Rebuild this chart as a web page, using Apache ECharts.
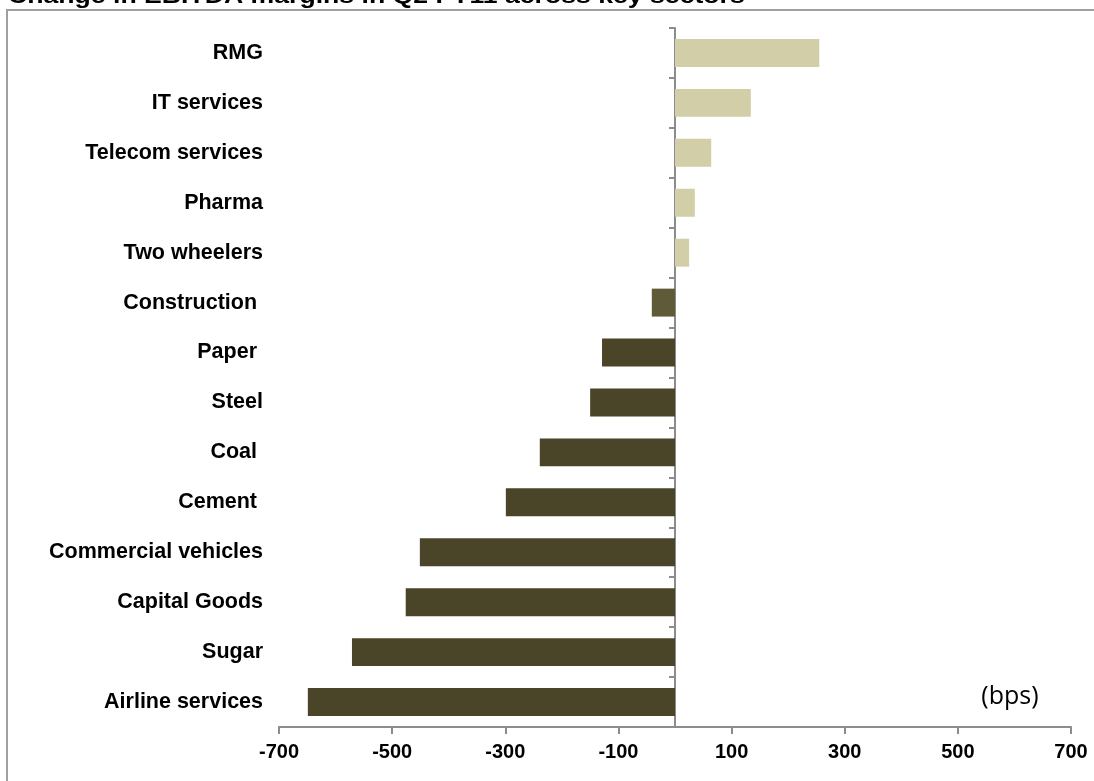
<!DOCTYPE html>
<html>
<head>
<meta charset="utf-8">
<script src="https://cdn.jsdelivr.net/npm/echarts@6/dist/echarts.min.js"></script>
<style>
  html, body { margin: 0; padding: 0; background: #fff; }
  #chart { width: 1094px; height: 781px; }
</style>
</head>
<body>
<div id="chart"></div>
<script>
"use strict";

// sectors, top to bottom (trailing spaces are in the source labels)
var sectors = ['RMG', 'IT services', 'Telecom services', 'Pharma', 'Two wheelers', 'Construction ',
	'Paper ', 'Steel', 'Coal ', 'Cement ', 'Commercial vehicles', 'Capital Goods', 'Sugar', 'Airline services'];
// change in EBITDA margin, bps
var marginChange = [255, 134, 64, 35, 25, -41, -129, -150, -239, -299, -451, -476, -571, -649];
var xTicks = [-700, 700, 200];

var chartTitle = 'Change in EBITDA margins in Q2 FY11 across key sectors';
var unitText = '(bps)';

var axisGrey = '#8c8c8c';
var posColor = '#d1cea8';
var smallNegColor = '#5f5b38';
var negColor = '#4a4528';

var myChart = echarts.init(document.getElementById('chart'));

myChart.setOption({
	animation: false,
	grid: { left: 279, right: 23, top: 28, bottom: 54, containLabel: false },
	graphic: [
		{ type: 'rect', shape: { x: 7, y: 10, width: 1200, height: 900 },
			style: { fill: 'none', stroke: '#a0a0a0', lineWidth: 2 }, silent: true },
		{ type: 'text', x: 8, y: 8, scaleX: 1.21,
			style: { text: chartTitle, font: 'bold 22px "Liberation Sans", Arial, sans-serif',
				fill: '#000', verticalAlign: 'bottom' } },
		{ type: 'text', x: 1010, y: 697,
			style: { text: unitText, font: '25px "Open Sans", sans-serif', fill: '#000',
				align: 'center', verticalAlign: 'middle' } }
	],
	xAxis: {
		type: 'value',
		min: xTicks[0],
		max: xTicks[1],
		interval: xTicks[2],
		axisLine: { show: true, lineStyle: { color: axisGrey, width: 2 } },
		axisTick: { show: true, length: 7, lineStyle: { color: axisGrey, width: 2 } },
		splitLine: { show: false },
		axisLabel: { margin: 15, color: '#000', fontWeight: 'bold', fontSize: 20,
			fontFamily: '"Liberation Sans", Arial, sans-serif' }
	},
	yAxis: [
		{
			type: 'category',
			data: sectors,
			inverse: true,
			position: 'left',
			axisLine: { show: true, onZero: true, lineStyle: { color: axisGrey, width: 2 } },
			axisTick: { show: true, length: 6, lineStyle: { color: axisGrey, width: 2 } },
			axisLabel: { show: false }
		},
		{
			type: 'category',
			data: sectors,
			inverse: true,
			position: 'left',
			axisLine: { show: false, onZero: false },
			axisTick: { show: false },
			axisLabel: { margin: 16, color: '#000', fontWeight: 'bold', fontSize: 21.5,
				fontFamily: '"Liberation Sans", Arial, sans-serif' }
		}
	],
	series: [{
		type: 'bar',
		yAxisIndex: 0,
		data: marginChange,
		barWidth: '56%',
		itemStyle: {
			color: function(p) {
				if (p.value > 0) return posColor;
				if (p.value > -100) return smallNegColor;
				return negColor;
			}
		}
	}]
});
</script>
</body>
</html>
